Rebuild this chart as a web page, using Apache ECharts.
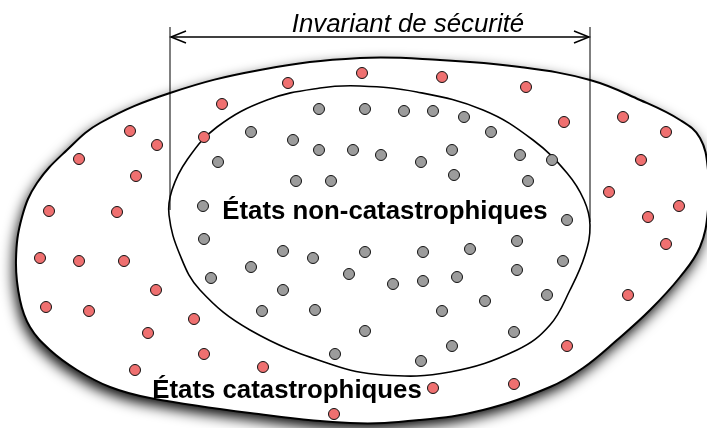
<!DOCTYPE html>
<html><head><meta charset="utf-8">
<script src="https://cdn.jsdelivr.net/npm/echarts@6/dist/echarts.min.js"></script>
<style>html,body{margin:0;padding:0;background:#fff}#c{width:707px;height:428px}</style>
</head><body><div id="c"></div>
<script>
// Red dots: catastrophic states [x, y]
const redDots = [
  [288,83],[362,73],[442,77],[526,87],[222,104],[204,137],[564,122],[623,117],[666,132],
  [130,131],[157,145],[79,159],[136,176],[641,160],[609,192],[49,211],[117,212],[679,206],
  [648,217],[666,244],[40,258],[79,261],[124,261],[156,290],[628,295],[46,307],[89,311],
  [194,319],[148,333],[567,346],[204,354],[135,370],[263,367],[433,388],[514,384],[334,414]
];
// Gray dots: non-catastrophic states [x, y]
const grayDots = [
  [319,109],[365,109],[404,111],[433,111],[464,117],[491,132],
  [251,132],[293,140],[319,150],[353,150],[381,155],[421,162],[452,150],[520,155],[552,160],
  [218,162],[296,181],[331,181],[454,175],[528,181],
  [203,206],[567,220],
  [204,239],[283,251],[313,258],[365,252],[423,252],[470,249],[517,241],
  [251,267],[349,274],[393,284],[423,281],[457,277],[517,270],[563,261],
  [211,278],[283,290],[485,301],[547,295],
  [262,311],[315,310],[442,311],
  [365,331],[514,332],[335,354],[452,346],[421,361]
];
// Outer region boundary (clockwise)
const outerBoundary = [
  [360,58],[440,60],[520,67],[590,80],[640,100],[680,120],[700,138],[708,170],[708,210],
  [700,247],[680,277],[650,310],[617,340],[583,368],[550,387],[483,410],[420,420],[350,423],
  [250,413],[150,398],[110,387],[77,370],[50,350],[30,327],[20,300],[16,260],[22,217],
  [37,183],[67,150],[100,123],[170,93],[260,70]
];
// Inner region boundary (clockwise)
const innerBoundary = [
  [360,86],[417,92],[483,110],[533,140],[567,173],[584,200],[590,225],[585,255],[570,290],
  [550,325],[517,350],[450,372],[383,375],[330,364],[250,330],[200,290],[180,255],[169,215],
  [172,190],[187,160],[217,127],[267,100],[320,88]
];
// Vertical guide lines [x, yTop, yBottom]
const guideLines = [[170,27,210],[590,27,222]];
// Double arrow [xStart, xEnd, y]
const arrowSpan = [170,590,37];
// Text labels
const labelTexts = ['Invariant de sécurité','États non-catastrophiques','États catastrophiques'];
const labelPos = [[408,25],[385,212],[287,391]];

const chart = echarts.init(document.getElementById('c'));

function polyRenderer(points, style) {
  return function (params, api) {
    if (params.dataIndex !== 0) return null;
    const pts = points.map(p => api.coord(p));
    return { type: 'polygon', shape: { points: pts, smooth: 0.4 }, style: style };
  };
}

chart.setOption({
  animation: false,
  backgroundColor: '#ffffff',
  grid: { left: 0, right: 0, top: 0, bottom: 0 },
  xAxis: { type: 'value', min: 0, max: 707, show: false },
  yAxis: { type: 'value', min: 0, max: 428, inverse: true, show: false },
  series: [
    {
      type: 'custom', z: 1, silent: true, clip: false,
      data: [outerBoundary[0]],
      renderItem: polyRenderer(outerBoundary, {
        fill: '#ffffff', stroke: null, lineWidth: 0,
        shadowBlur: 14, shadowColor: 'rgba(0,0,0,1)', shadowOffsetX: -2, shadowOffsetY: 6
      })
    },
    {
      type: 'custom', z: 2, silent: true, clip: false,
      data: [outerBoundary[0]],
      renderItem: polyRenderer(outerBoundary, {
        fill: '#ffffff', stroke: '#000000', lineWidth: 2
      })
    },
    {
      type: 'custom', z: 3, silent: true, clip: false,
      data: [innerBoundary[0]],
      renderItem: polyRenderer(innerBoundary, {
        fill: 'none', stroke: '#000000', lineWidth: 1.6
      })
    },
    {
      type: 'custom', z: 3, silent: true, clip: false,
      data: guideLines,
      renderItem: function (params, api) {
        const g = guideLines[params.dataIndex];
        const a = api.coord([g[0], g[1]]);
        const b = api.coord([g[0], g[2]]);
        return { type: 'line', shape: { x1: a[0], y1: a[1], x2: b[0], y2: b[1] },
          style: { stroke: '#000', lineWidth: 1 } };
      }
    },
    {
      type: 'custom', z: 3, silent: true, clip: false,
      data: [[arrowSpan[0], arrowSpan[2]]],
      renderItem: function (params, api) {
        const a = api.coord([arrowSpan[0], arrowSpan[2]]);
        const b = api.coord([arrowSpan[1], arrowSpan[2]]);
        const st = { stroke: '#000', lineWidth: 1.5, fill: 'none' };
        return { type: 'group', children: [
          { type: 'line', shape: { x1: a[0] + 1, y1: a[1], x2: b[0] - 1, y2: b[1] }, style: st },
          { type: 'polyline', shape: { points: [[a[0] + 16, a[1] - 6], [a[0] + 1, a[1]], [a[0] + 16, a[1] + 6]] }, style: st },
          { type: 'polyline', shape: { points: [[b[0] - 16, b[1] - 6], [b[0] - 1, b[1]], [b[0] - 16, b[1] + 6]] }, style: st }
        ] };
      }
    },
    {
      type: 'scatter', z: 4, silent: true,
      data: redDots, symbolSize: 11,
      itemStyle: { color: '#ef7070', borderColor: '#111', borderWidth: 1, opacity: 1 }
    },
    {
      type: 'scatter', z: 4, silent: true,
      data: grayDots, symbolSize: 11,
      itemStyle: { color: '#9c9c9c', borderColor: '#111', borderWidth: 1, opacity: 1 }
    },
    {
      type: 'custom', z: 5, silent: true, clip: false,
      data: labelPos,
      renderItem: function (params, api) {
        const i = params.dataIndex;
        const p = api.coord(labelPos[i]);
        const italic = i === 0;
        return { type: 'text', x: p[0], y: p[1], style: {
          text: labelTexts[i], fill: '#000',
          font: (italic ? 'italic 400 ' : 'normal 700 ') + '25.8px "Liberation Sans", Arial, sans-serif',
          align: 'center', verticalAlign: 'middle'
        } };
      }
    }
  ]
});
</script>
</body></html>
